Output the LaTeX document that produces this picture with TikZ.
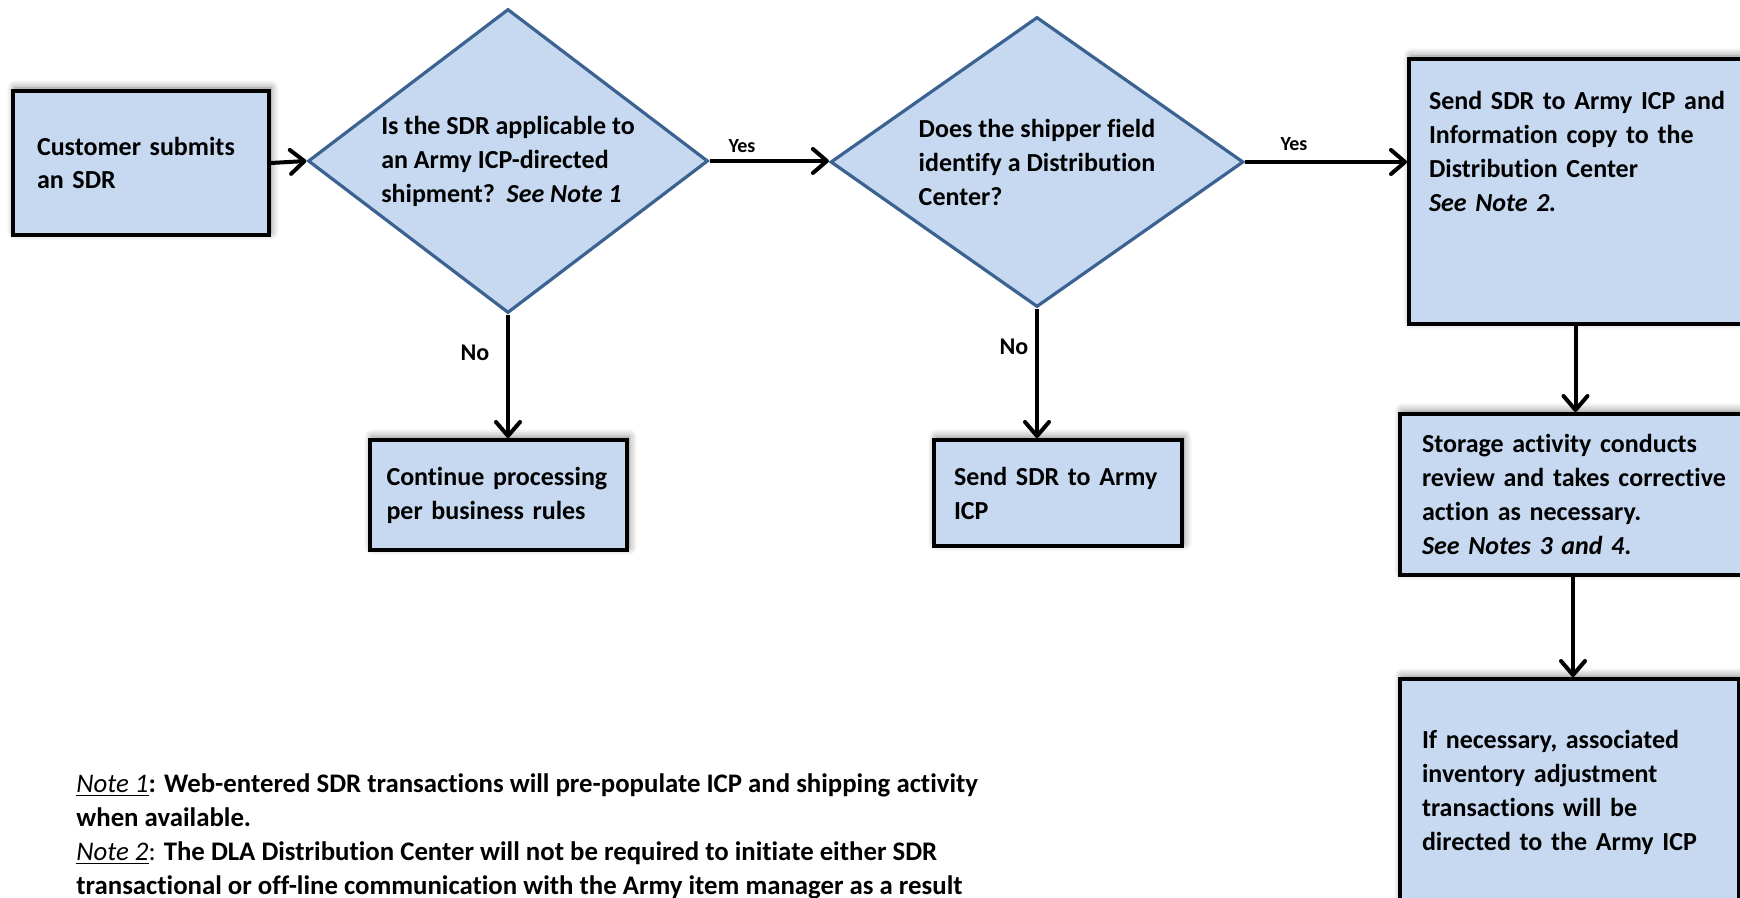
\documentclass[tikz,border=0pt]{standalone}
\usepackage{fontspec}
\setmainfont{Carlito}[Ligatures={NoCommon}]
\usetikzlibrary{positioning,arrows.meta,shapes.geometric,shadows.blur}
\definecolor{boxblue}{RGB}{198,217,241}
\definecolor{edgeblue}{RGB}{60,98,146}
\newcommand{\boxfont}{\bfseries\fontsize{13pt}{17pt}\selectfont}
\tikzstyle{process}=[draw, line width=2pt, fill=boxblue, anchor=north west, align=left, inner ysep=0pt, font=\boxfont, blur shadow={shadow xshift=1pt, shadow yshift=1.5pt, shadow blur radius=4pt, shadow blur steps=6, shadow opacity=50}]
\tikzstyle{decision}=[diamond, draw=edgeblue, line width=1.6pt, fill=boxblue, align=left, inner sep=0pt, font=\boxfont]
\tikzstyle{flow}=[line width=2pt, -{Straight Barb[length=7pt, width=12pt, round]}]
\tikzstyle{answer}=[font=\bfseries\fontsize{10pt}{12pt}\selectfont]

\begin{document}
\begin{tikzpicture}[x=0.5pt, y=-0.5pt]
	\useasboundingbox (0,0) rectangle (1740,898);
	% first row
	\node[process, minimum width=128pt, minimum height=72pt, text width=104pt, inner xsep=12pt, font=\bfseries\fontsize{13pt}{16.5pt}\selectfont] (customer) at (11,89) {Customer submits\\an SDR};
	\node[decision, minimum width=200pt, minimum height=152pt, aspect=1.32] (applicable) at (508,161) {Is the SDR applicable to\\an Army ICP-directed\\shipment?~~\textit{See Note 1}};
	\node[decision, minimum width=206.5pt, minimum height=145pt, aspect=1.42] (shipper) at (1037,162) {Does the shipper field\\identify a Distribution\\Center?};
	\node[process, minimum width=176.5pt, minimum height=132.5pt, text width=156.5pt, inner xsep=10pt] (sendboth) at (1407,57) {Send SDR to Army ICP and\\Information copy to the\\Distribution Center\\\textit{See Note 2.}\\[23.5pt]\mbox{}};
	% answers
	\node[process, minimum width=128.5pt, minimum height=55pt, text width=112pt, inner xsep=8.25pt] (continue) at (368,438) {Continue processing\\per business rules};
	\node[process, minimum width=124pt, minimum height=53pt, text width=104pt, inner xsep=10pt] (sendicp) at (932,438) {Send SDR to Army\\ICP};
	\node[process, minimum width=181pt, minimum height=80.5pt, text width=159pt, inner xsep=11pt] (storage) at (1398,412) {Storage activity conducts\\review and takes corrective\\action as necessary.\\\textit{See Notes 3 and 4}.};
	\node[process, minimum width=169.5pt, minimum height=113pt, text width=147.5pt, inner xsep=11pt] (adjust) at (1398,677) {If necessary, associated\\inventory adjustment\\transactions will be\\directed to the Army ICP};
	% connectors
	\draw[flow] (customer.east) -- (applicable.west);
	\draw[flow] (applicable.east) -- (applicable.east -| shipper.west);
	\draw[flow] (shipper.east) -- (shipper.east -| sendboth.west);
	\draw[flow] (applicable.south) -- (applicable.south |- continue.north);
	\draw[flow] (shipper.south) -- (shipper.south |- sendicp.north);
	\draw[flow] ([xshift=-5pt]sendboth.south) -- ([xshift=-5pt]sendboth.south |- storage.north);
	\draw[flow] ([xshift=-4pt]storage.south) -- ([xshift=-4pt]storage.south |- adjust.north);
	\node[answer] (yes1) at (742,146) {Yes};
	\node[answer] (yes2) at (1294,144) {Yes};
	\node[answer, font=\bfseries\fontsize{12pt}{14pt}\selectfont] (no1) at (475,353) {No};
	\node[answer, font=\bfseries\fontsize{12pt}{14pt}\selectfont] (no2) at (1014,347) {No};
	% notes
	\node[anchor=north west, align=left, inner sep=0pt, font=\bfseries\fontsize{13.4pt}{17pt}\selectfont] (notes) at (76,773) {\underline{\textmd{\textit{Note 1}}}: Web-entered SDR transactions will pre-populate ICP and shipping activity\\when available.\\\underline{\textmd{\textit{Note 2}}}\textmd{:} The DLA Distribution Center will not be required to initiate either SDR\\transactional or off-line communication with the Army item manager as a result};
\end{tikzpicture}
\end{document}
